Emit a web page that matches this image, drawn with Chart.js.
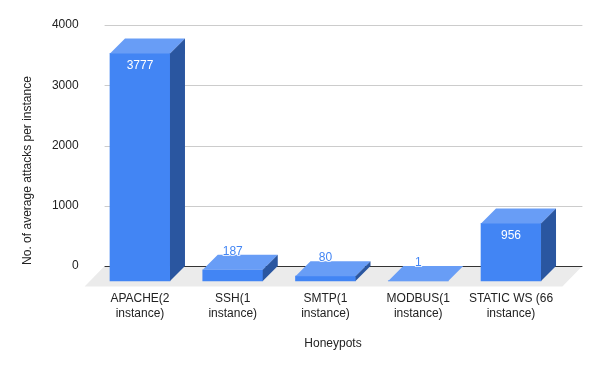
<!DOCTYPE html>
<html>
<head>
<meta charset="utf-8">
<style>
    html, body { margin: 0; padding: 0; background: #fff; }
    #wrap { width: 600px; height: 371px; }
</style>
</head>
<body>
<div id="wrap"><canvas id="honeypotChart"></canvas></div>
<script src="https://cdn.jsdelivr.net/npm/chart.js@4"></script>
<script>
const categories = [
    ['APACHE(2', 'instance)'],
    ['SSH(1', 'instance)'],
    ['SMTP(1', 'instance)'],
    ['MODBUS(1', 'instance)'],
    ['STATIC WS (66', 'instance)']
];
const avgAttacks = [3777, 187, 80, 1, 956];
const yTicks = [0, 1000, 2000, 3000, 4000];
const xTitle = 'Honeypots';
const yTitle = 'No. of average attacks per instance';

const FONT = '"Liberation Sans", Arial, sans-serif';
const TEXT_COLOR = '#222222';
const DEPTH = 15; // 3D offset of the box faces

const COLOR_FRONT = '#4285f4';
const COLOR_TOP = '#689df6';
const COLOR_SIDE = '#2a56a0';

function fillFace(ctx, color, points) {
    ctx.fillStyle = color;
    ctx.beginPath();
    points.forEach((p, i) => i ? ctx.lineTo(p[0], p[1]) : ctx.moveTo(p[0], p[1]));
    ctx.closePath();
    ctx.fill();
}

// Floor and grid sit behind the bars
const backdrop = {
    id: 'backdrop',
    beforeDatasetsDraw(chart) {
        const { ctx, chartArea, scales } = chart;
        const bottom = chartArea.bottom;
        const left = chartArea.left;
        const right = chartArea.right;

        fillFace(ctx, '#ebebeb', [
            [left + 11, bottom],
            [right + 25, bottom],
            [right + 5, bottom + 20.5],
            [left - 9, bottom + 20.5]
        ]);

        ctx.save();
        ctx.lineWidth = 1;
        scales.y.ticks.forEach(t => {
            const y = Math.round(scales.y.getPixelForValue(t.value)) + 0.5;
            ctx.strokeStyle = t.value === 0 ? '#333333' : '#cccccc';
            ctx.beginPath();
            ctx.moveTo(left + 11, y);
            ctx.lineTo(right + 25, y);
            ctx.stroke();
        });
        ctx.restore();
    },
    // bars stand on the front edge of the floor
    beforeDatasetDraw(chart) {
        chart.ctx.save();
        chart.ctx.translate(0, DEPTH);
    },
    afterDatasetDraw(chart, args) {
        const ctx = chart.ctx;
        args.meta.data.forEach(bar => {
            const l = bar.x - bar.width / 2;
            const r = bar.x + bar.width / 2;
            fillFace(ctx, COLOR_TOP, [[l, bar.y], [l + DEPTH, bar.y - DEPTH], [r + DEPTH, bar.y - DEPTH], [r, bar.y]]);
            fillFace(ctx, COLOR_SIDE, [[r, bar.y], [r + DEPTH, bar.y - DEPTH], [r + DEPTH, bar.base - DEPTH], [r, bar.base]]);
        });
        ctx.restore();
    },
    afterDatasetsDraw(chart) {
        const ctx = chart.ctx;
        const meta = chart.getDatasetMeta(0);
        ctx.save();
        ctx.font = '12px ' + FONT;
        ctx.textAlign = 'center';
        ctx.textBaseline = 'middle';
        meta.data.forEach((bar, i) => {
            const inside = bar.base - bar.y > 40;
            const y = bar.y + DEPTH + (inside ? 12.5 : -18.5);
            const text = String(avgAttacks[i]);
            if (!inside) {
                // small white halo where the label crosses the box
                ctx.strokeStyle = 'rgba(255,255,255,0.8)';
                ctx.lineWidth = 2;
                ctx.strokeText(text, bar.x, y);
            }
            ctx.fillStyle = inside ? '#ffffff' : COLOR_FRONT;
            ctx.fillText(text, bar.x, y);
        });

        // axis titles are off-centre in the original, so they are placed here
        ctx.fillStyle = TEXT_COLOR;
        ctx.fillText(xTitle, 333, 344);
        ctx.translate(27.5, 170.5);
        ctx.rotate(-Math.PI / 2);
        ctx.fillText(yTitle, 0, 0);
        ctx.restore();
    }
};

new Chart(document.getElementById('honeypotChart').getContext('2d'), {
    type: 'bar',
    data: {
        labels: categories,
        datasets: [{
            data: avgAttacks,
            backgroundColor: COLOR_FRONT,
            barThickness: 60,
            clip: false
        }]
    },
    options: {
        responsive: true,
        maintainAspectRatio: false,
        animation: false,
        layout: { padding: { top: 25, right: 42.6, left: 0, bottom: 0 } },
        plugins: { legend: { display: false }, tooltip: { enabled: false } },
        scales: {
            x: {
                grid: { display: false, drawTicks: false },
                border: { display: false },
                ticks: {
                    color: TEXT_COLOR,
                    font: { family: FONT, size: 12, lineHeight: 1.25 },
                    padding: 25,
                    maxRotation: 0,
                    autoSkip: false
                },
                afterFit(scale) { scale.height = 105; }
            },
            y: {
                min: 0,
                max: 4000,
                afterBuildTicks(scale) { scale.ticks = yTicks.map(v => ({ value: v })); },
                grid: { display: false, drawTicks: false },
                border: { display: false },
                ticks: {
                    color: TEXT_COLOR,
                    font: { family: FONT, size: 12 },
                    padding: 15,
                    callback: v => String(v)
                },
                afterFit(scale) { scale.width = 93.6; }
            }
        }
    },
    plugins: [backdrop]
});
</script>
</body>
</html>
